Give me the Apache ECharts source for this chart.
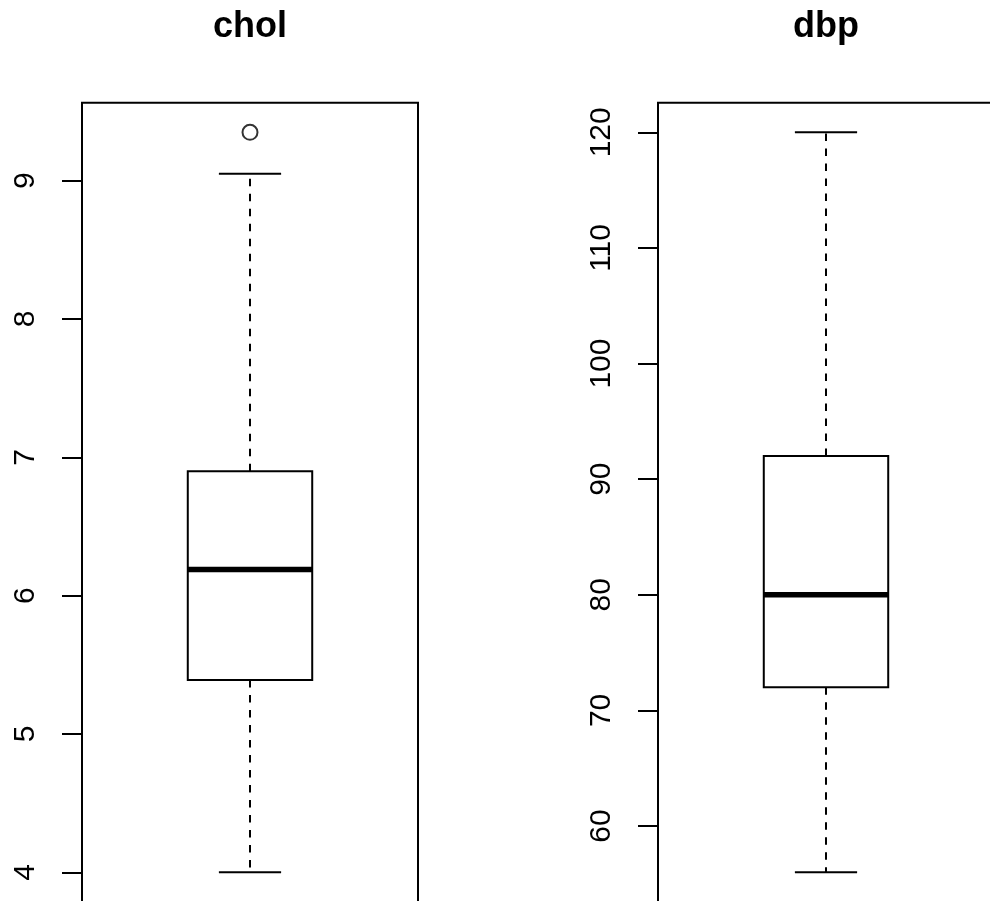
<!DOCTYPE html>
<html>
<head>
<meta charset="utf-8">
<style>
  html, body { margin: 0; padding: 0; background: #ffffff; }
  #chart { width: 990px; height: 901px; }
</style>
<script src="https://cdn.jsdelivr.net/npm/echarts@6/dist/echarts.min.js"></script>
</head>
<body>
<div id="chart"></div>
<script>
// ---- data ----
const panelTitles = ['chol', 'dbp'];
// five-number summaries: [lower whisker, Q1, median, Q3, upper whisker]
const cholStats = [4.0, 5.39, 6.19, 6.9, 9.05];
const dbpStats = [56, 72, 80, 92, 120];
const cholOutliers = [9.35];
const dbpOutliers = [];
const cholTicks = [4, 5, 6, 7, 8, 9];
const dbpTicks = [60, 70, 80, 90, 100, 110, 120];
// axis ranges (data range extended by 4%, as R does)
const cholRange = [3.786, 9.564];
const dbpRange = [53.44, 122.56];

// ---- styling ----
const FONT = 'Liberation Sans, Arial, Helvetica, sans-serif';
const BOX_HALF = 0.2;
const CAP_HALF = 0.1;
const LW = 2;

function boxRenderer(params, api) {
  const x = api.value(0);
  const lo = api.value(1), q1 = api.value(2), med = api.value(3), q3 = api.value(4), hi = api.value(5);
  const c = api.coord([x, med]);
  const pLo = api.coord([x, lo]), pHi = api.coord([x, hi]);
  const pQ1 = api.coord([x, q1]), pQ3 = api.coord([x, q3]);
  const xl = api.coord([x - BOX_HALF, med])[0], xr = api.coord([x + BOX_HALF, med])[0];
  const cl = api.coord([x - CAP_HALF, med])[0], cr = api.coord([x + CAP_HALF, med])[0];
  const solid = { stroke: '#000', lineWidth: LW, fill: null };
  const dashed = { stroke: '#000', lineWidth: LW, lineDash: [7.5, 7.5], fill: null };
  return {
    type: 'group',
    children: [
      { type: 'line', shape: { x1: c[0], y1: pQ3[1], x2: c[0], y2: pHi[1] }, style: dashed },
      { type: 'line', shape: { x1: c[0], y1: pQ1[1], x2: c[0], y2: pLo[1] }, style: dashed },
      { type: 'line', shape: { x1: cl, y1: pHi[1], x2: cr, y2: pHi[1] }, style: solid },
      { type: 'line', shape: { x1: cl, y1: pLo[1], x2: cr, y2: pLo[1] }, style: solid },
      { type: 'rect', shape: { x: xl, y: pQ3[1], width: xr - xl, height: pQ1[1] - pQ3[1] },
        style: { stroke: '#000', lineWidth: LW, fill: '#fff' } },
      { type: 'line', shape: { x1: xl, y1: c[1], x2: xr, y2: c[1] }, style: { stroke: '#000', lineWidth: 5.5 } }
    ]
  };
}

function yAxisFor(idx, range, ticks) {
  return {
    type: 'value', gridIndex: idx, min: range[0], max: range[1],
    axisLine: { show: false },
    splitLine: { show: false },
    axisTick: { show: true, length: 20, customValues: ticks, lineStyle: { color: '#000', width: LW } },
    axisLabel: {
      customValues: ticks, rotate: 90, margin: 41,
      fontSize: 30, color: '#000', fontFamily: FONT
    }
  };
}

function xAxisFor(idx) {
  return { type: 'value', gridIndex: idx, min: 0.46, max: 1.54, show: false };
}

const chart = echarts.init(document.getElementById('chart'), null, { renderer: 'canvas' });
const gridCommon = { top: 102.7, height: 799.2, width: 336, show: true, borderColor: '#000', borderWidth: LW,
  backgroundColor: 'transparent', containLabel: false, outerBoundsMode: 'none' };

chart.setOption({
  backgroundColor: '#ffffff',
  animation: false,
  title: [
    { text: panelTitles[0], left: 250, top: 9, textAlign: 'center', padding: 0,
      textStyle: { fontSize: 36, fontWeight: 'bold', color: '#000', fontFamily: FONT } },
    { text: panelTitles[1], left: 826, top: 9, textAlign: 'center', padding: 0,
      textStyle: { fontSize: 36, fontWeight: 'bold', color: '#000', fontFamily: FONT } }
  ],
  grid: [
    Object.assign({ left: 82 }, gridCommon),
    Object.assign({ left: 658 }, gridCommon)
  ],
  xAxis: [xAxisFor(0), xAxisFor(1)],
  yAxis: [yAxisFor(0, cholRange, cholTicks), yAxisFor(1, dbpRange, dbpTicks)],
  series: [
    { type: 'custom', xAxisIndex: 0, yAxisIndex: 0, renderItem: boxRenderer,
      encode: { x: 0, y: [1, 2, 3, 4, 5] }, data: [[1].concat(cholStats)], clip: false },
    { type: 'custom', xAxisIndex: 1, yAxisIndex: 1, renderItem: boxRenderer,
      encode: { x: 0, y: [1, 2, 3, 4, 5] }, data: [[1].concat(dbpStats)], clip: false },
    { type: 'scatter', xAxisIndex: 0, yAxisIndex: 0, symbol: 'circle', symbolSize: 15,
      itemStyle: { color: '#fff', borderColor: '#000', borderWidth: LW },
      data: cholOutliers.map(v => [1, v]) },
    { type: 'scatter', xAxisIndex: 1, yAxisIndex: 1, symbol: 'circle', symbolSize: 15,
      itemStyle: { color: '#fff', borderColor: '#000', borderWidth: LW },
      data: dbpOutliers.map(v => [1, v]) }
  ]
});
</script>
</body>
</html>
